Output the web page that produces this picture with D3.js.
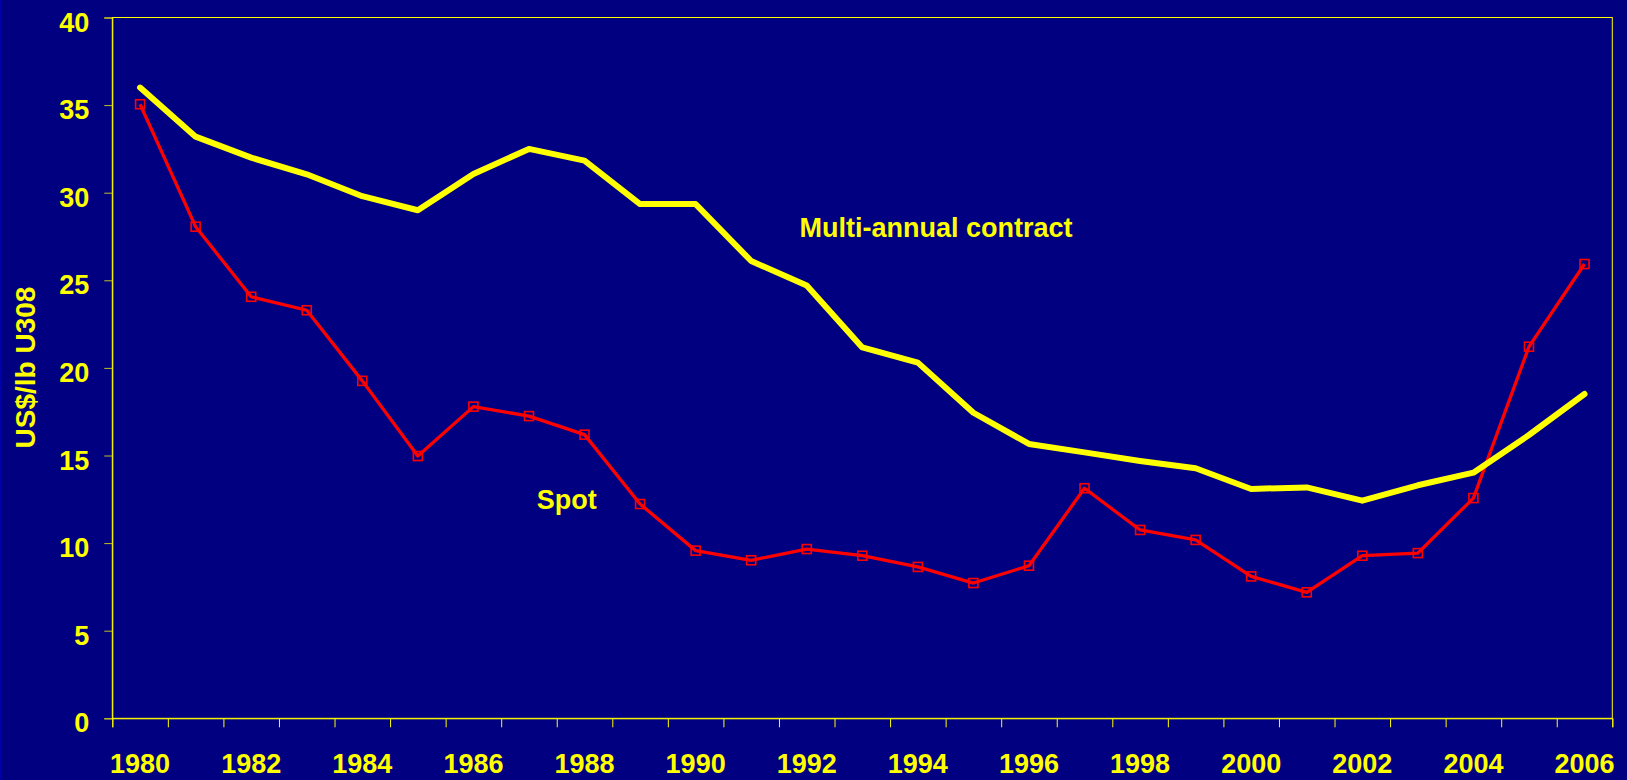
<!DOCTYPE html>
<html>
<head>
<meta charset="utf-8">
<script src="https://cdn.jsdelivr.net/npm/d3@7"></script>
<style>
  html, body { margin: 0; padding: 0; background: #000080; }
  svg { display: block; }
  text { font-family: "Liberation Sans", Arial, sans-serif; font-weight: bold; fill: #ffff00; }
</style>
</head>
<body>
<svg id="chart" width="1627" height="780"></svg>
<script>
const years = [1980,1981,1982,1983,1984,1985,1986,1987,1988,1989,1990,1991,1992,1993,1994,1995,1996,1997,1998,1999,2000,2001,2002,2003,2004,2005,2006];
const contract = [36.0,33.2,32.0,31.05,29.8,29.0,31.07,32.5,31.83,29.35,29.35,26.1,24.7,21.17,20.3,17.44,15.66,15.18,14.69,14.27,13.09,13.18,12.42,13.3,14.02,16.17,18.51];
const spot = [35.05,28.06,24.06,23.29,19.26,14.97,17.79,17.25,16.19,12.23,9.57,9.02,9.66,9.28,8.64,7.72,8.71,13.13,10.75,10.18,8.1,7.19,9.28,9.43,12.57,21.21,25.93];
const yTicks = [0,5,10,15,20,25,30,35,40];
const xLabels = [1980,1982,1984,1986,1988,1990,1992,1994,1996,1998,2000,2002,2004,2006];
const yTitle = "US$/lb U308";
const contractLabel = "Multi-annual contract";
const spotLabel = "Spot";

const W = 1627, H = 780;
const L = 112.3, R = 1612.3, T = 17.5, B = 718.3;

const svg = d3.select("#chart");
svg.append("rect").attr("width", W).attr("height", H).attr("fill", "#000080");
svg.append("rect").attr("width", 2).attr("height", H).attr("fill", "#0000a8");

const x = d3.scaleBand().domain(years).range([L, R]);
const xLin = d3.scaleLinear().domain([0, years.length]).range([L, R]);
const y = d3.scaleLinear().domain([0, 40]).range([B, T]);
const cx = d => x(d) + x.bandwidth() / 2;

// plot border
svg.append("rect").attr("x", L).attr("y", T).attr("width", R - L).attr("height", B - T)
  .attr("fill", "none").attr("stroke", "#ffff00").attr("stroke-width", 1);

// y axis
const yAxis = svg.append("g").attr("transform", `translate(${L},0)`)
  .call(d3.axisLeft(y).tickValues(yTicks).tickSize(8).tickPadding(15).tickFormat(d3.format("d")));
yAxis.select(".domain").attr("stroke", "#ffff00");
yAxis.selectAll(".tick line").attr("stroke", "#c0c020");
yAxis.selectAll(".tick text").attr("font-size", 27).attr("fill", "#ffff00")
  .attr("dy", "0.5em").attr("font-family", '"Liberation Sans", Arial, sans-serif').attr("font-weight", "bold");

// x axis boundary ticks
const xTickAxis = svg.append("g").attr("transform", `translate(0,${B})`)
  .call(d3.axisBottom(xLin).tickValues(d3.range(0, years.length + 1)).tickSize(9).tickFormat(""));
xTickAxis.select(".domain").attr("stroke", "#ffff00");
xTickAxis.selectAll(".tick line").attr("stroke", "#ffff00");

// x labels
const xLabAxis = svg.append("g").attr("transform", `translate(0,${B})`)
  .call(d3.axisBottom(x).tickValues(xLabels).tickSize(0).tickPadding(36));
xLabAxis.select(".domain").remove();
xLabAxis.selectAll(".tick text").attr("font-size", 27).attr("fill", "#ffff00")
  .attr("font-family", '"Liberation Sans", Arial, sans-serif').attr("font-weight", "bold");

// y title
svg.append("text").attr("transform", `translate(34.5,${367.5}) rotate(-90)`)
  .attr("text-anchor", "middle").attr("font-size", 28).text(yTitle);

// lines
const line = d3.line().x((d, i) => cx(years[i])).y(d => y(d));
svg.append("path").datum(spot).attr("d", line).attr("fill", "none")
  .attr("stroke", "#ff0000").attr("stroke-width", 3.3).attr("stroke-linejoin", "round");
svg.append("g").selectAll("rect").data(spot).join("rect")
  .attr("x", (d, i) => cx(years[i]) - 4.5).attr("y", d => y(d) - 4.5)
  .attr("width", 9).attr("height", 9).attr("fill", "none")
  .attr("stroke", "#ff0000").attr("stroke-width", 1.6);
svg.append("path").datum(contract).attr("d", line).attr("fill", "none")
  .attr("stroke", "#ffff00").attr("stroke-width", 6).attr("stroke-linejoin", "round").attr("stroke-linecap", "round");

// annotations
svg.append("text").attr("x", xLin(12.37)).attr("y", y(27.49)).attr("font-size", 27).text(contractLabel);
svg.append("text").attr("x", xLin(7.64)).attr("y", y(11.93)).attr("font-size", 27).text(spotLabel);
</script>
</body>
</html>
